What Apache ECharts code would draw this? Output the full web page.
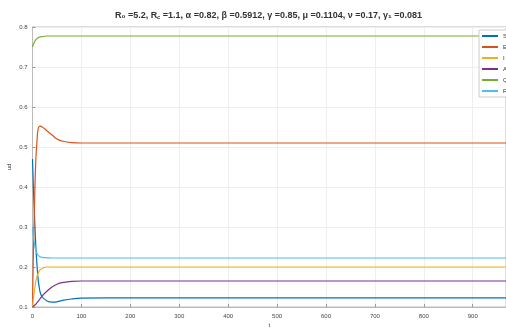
<!DOCTYPE html>
<html>
<head>
<meta charset="utf-8">
<script src="https://cdn.jsdelivr.net/npm/echarts@6/dist/echarts.min.js"></script>
<style>
  html, body { margin: 0; padding: 0; background: #fff; }
  #chart { width: 506px; height: 330px; }
</style>
</head>
<body>
<div id="chart"></div>
<script>
// time points and compartments
const t = [0, 5, 10, 15, 20, 30, 40, 50, 60, 80, 100, 150, 200, 300, 400, 500, 600, 700, 800, 900, 1000];
const sData = [0.47, 0.30, 0.19, 0.14, 0.125, 0.115, 0.112, 0.113, 0.116, 0.120, 0.122, 0.123, 0.123, 0.123, 0.123, 0.123, 0.123, 0.123, 0.123, 0.123, 0.123];
const eData = [0.10, 0.40, 0.53, 0.552, 0.55, 0.54, 0.53, 0.52, 0.515, 0.511, 0.51, 0.51, 0.51, 0.51, 0.51, 0.51, 0.51, 0.51, 0.51, 0.51, 0.51];
const iData = [0.10, 0.15, 0.18, 0.192, 0.197, 0.200, 0.200, 0.200, 0.200, 0.200, 0.200, 0.200, 0.200, 0.200, 0.200, 0.200, 0.200, 0.200, 0.200, 0.200, 0.200];
const aData = [0.10, 0.105, 0.112, 0.12, 0.128, 0.14, 0.15, 0.157, 0.161, 0.164, 0.165, 0.165, 0.165, 0.165, 0.165, 0.165, 0.165, 0.165, 0.165, 0.165, 0.165];
const qData = [0.75, 0.765, 0.772, 0.775, 0.776, 0.7775, 0.7775, 0.7775, 0.7775, 0.7775, 0.7775, 0.7775, 0.7775, 0.7775, 0.7775, 0.7775, 0.7775, 0.7775, 0.7775, 0.7775, 0.7775];
const rData = [0.30, 0.25, 0.232, 0.226, 0.224, 0.223, 0.2225, 0.2225, 0.2225, 0.2225, 0.2225, 0.2225, 0.2225, 0.2225, 0.2225, 0.2225, 0.2225, 0.2225, 0.2225, 0.2225, 0.2225];
const names = ['S', 'E', 'I', 'A', 'Q', 'R'];
const colors = ['#0072BD', '#D95319', '#EDB120', '#7E2F8E', '#77AC30', '#4DBEEE'];

const chart = echarts.init(document.getElementById('chart'));

function mk(name, data, color) {
  return {
    name: name,
    type: 'line',
    data: t.map((x, i) => [x, data[i]]),
    smooth: true,
    showSymbol: false,
    lineStyle: { width: 1.2, color: color },
    itemStyle: { color: color }
  };
}

// the original picture is cropped on the right, so the axis stops short of 1000
const option = {
  animation: false,
  title: {
    text: 'R₀ =5.2, R꜀ =1.1, α =0.82, β =0.5912, γ =0.85, μ =0.1104, ν =0.17, γ₁ =0.081',
    left: 110, top: 6,
    textStyle: { fontSize: 9, fontWeight: 'bold', color: '#333', fontFamily: 'Liberation Sans' }
  },
  legend: {
    data: names,
    orient: 'vertical',
    left: 479, top: 30,
    itemWidth: 16, itemHeight: 2, itemGap: 5,
    padding: [3, 4, 3, 3],
    icon: 'rect',
    backgroundColor: '#fff',
    borderColor: '#ccc', borderWidth: 1,
    textStyle: { fontSize: 6, color: '#333', fontFamily: 'Liberation Sans' }
  },
  grid: { left: 32.5, right: 0, top: 27, bottom: 23, outerBoundsMode: 'none', containLabel: false, show: true, borderColor: '#bbb', borderWidth: 1 },
  xAxis: {
    type: 'value', min: 0, max: 968, interval: 100,
    name: 't', nameLocation: 'middle', nameGap: 15, nameMoveOverlap: false,
    nameTextStyle: { fontSize: 6, color: '#333' },
    axisLine: { lineStyle: { color: '#bbb' } },
    axisTick: { inside: true, length: 3, lineStyle: { color: '#999' } },
    axisLabel: { fontSize: 6, color: '#444', margin: 6, showMaxLabel: false },
    splitLine: { show: true, lineStyle: { color: '#eee' } }
  },
  yAxis: {
    type: 'value', min: 0.1, max: 0.8, interval: 0.1,
    name: 'ud', nameLocation: 'middle', nameGap: 20, nameRotate: 90, nameMoveOverlap: false,
    nameTextStyle: { fontSize: 6, color: '#333' },
    axisLine: { show: true, lineStyle: { color: '#bbb' } },
    axisTick: { show: true, inside: true, length: 3, lineStyle: { color: '#999' } },
    axisLabel: { fontSize: 6, color: '#444', margin: 5, formatter: v => v.toFixed(1) },
    splitLine: { show: true, lineStyle: { color: '#eee' } }
  },
  series: [
    mk(names[0], sData, colors[0]),
    mk(names[1], eData, colors[1]),
    mk(names[2], iData, colors[2]),
    mk(names[3], aData, colors[3]),
    mk(names[4], qData, colors[4]),
    mk(names[5], rData, colors[5])
  ]
};

chart.setOption(option);
</script>
</body>
</html>
